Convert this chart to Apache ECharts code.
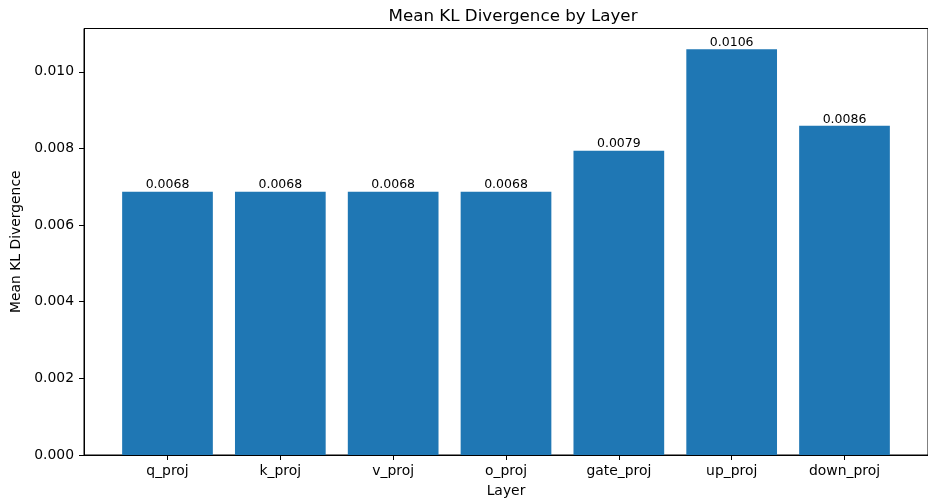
<!DOCTYPE html>
<html><head><meta charset="utf-8">
<script src="https://cdn.jsdelivr.net/npm/echarts@6/dist/echarts.min.js"></script>
<style>html,body{margin:0;padding:0;background:#fff}#c{width:928px;height:503px}</style>
</head><body><div id="c"></div>
<script>
const categories = ['q_proj','k_proj','v_proj','o_proj','gate_proj','up_proj','down_proj'];
const meanKL = [0.00687, 0.00687, 0.00687, 0.00687, 0.00794, 0.01059, 0.00859];
const barLabels = ['0.0068','0.0068','0.0068','0.0068','0.0079','0.0106','0.0086'];
const yTicks = [0, 0.002, 0.004, 0.006, 0.008, 0.010];

const font = 'DejaVu Sans';
const chart = echarts.init(document.getElementById('c'), null, {renderer:'canvas'});
const xIdx = categories.map((_, i) => i);
chart.setOption({
  animation: false,
  backgroundColor: '#fff',
  title: {
    text: 'Mean KL Divergence by Layer',
    left: 508, top: 3, textAlign: 'center',
    textStyle: {fontFamily: font, fontSize: 16.7, fontWeight: 'normal', color: '#000'}
  },
  grid: {left: 84, top: 28.5, width: 848, height: 427.5, show: true, borderColor: '#000', borderWidth: 1, backgroundColor: 'transparent', containLabel: false},
  xAxis: {
    type: 'value', min: -0.74, max: 6.74,
    name: 'Layer', nameLocation: 'middle', nameGap: 29,
    nameTextStyle: {fontFamily: font, fontSize: 13.9, color: '#000'},
    axisLine: {show: true, onZero: false, lineStyle: {color: '#000', width: 1}},
    axisTick: {show: true, length: 5, inside: false, customValues: xIdx, lineStyle: {color: '#000'}},
    axisLabel: {customValues: xIdx, margin: 9, fontFamily: font, fontSize: 13.9, color: '#000',
      formatter: v => categories[Math.round(v)]},
    splitLine: {show: false}
  },
  yAxis: {
    type: 'value', min: 0, max: 0.01113,
    name: 'Mean KL Divergence', nameLocation: 'middle', nameGap: 55, nameRotate: 90,
    nameTextStyle: {fontFamily: font, fontSize: 13.9, color: '#000'},
    axisLine: {show: true, onZero: false, lineStyle: {color: '#000', width: 1}},
    axisTick: {show: true, length: 5, inside: false, customValues: yTicks, lineStyle: {color: '#000'}},
    axisLabel: {customValues: yTicks, margin: 10, fontFamily: font, fontSize: 13.9, color: '#000',
      formatter: v => v.toFixed(3)},
    splitLine: {show: false}
  },
  series: [{
    type: 'bar',
    data: meanKL.map((v, i) => [i, v]),
    barWidth: 90.7,
    itemStyle: {color: '#1f77b4'},
    label: {show: true, position: 'top', distance: 0, fontFamily: font, fontSize: 12.5, color: '#000',
      formatter: p => barLabels[p.dataIndex]}
  }]
});
</script></body></html>
